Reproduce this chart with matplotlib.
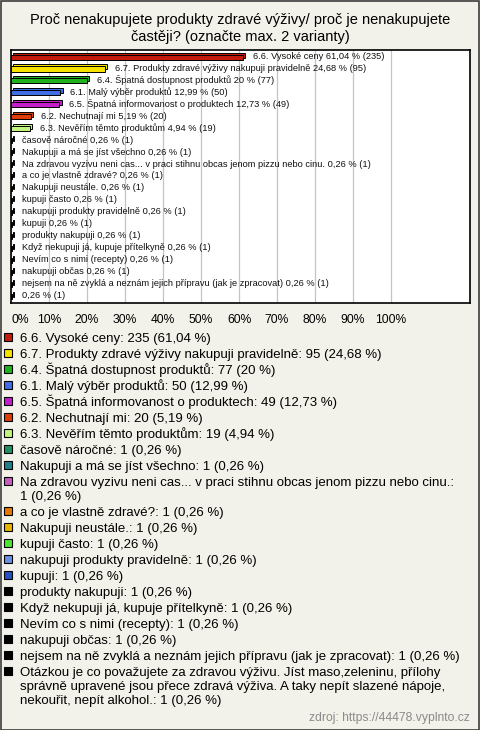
"""Proč nenakupujete produkty zdravé výživy - horizontal bar chart with legend."""

import matplotlib
matplotlib.use("Agg")
import matplotlib.pyplot as plt
from matplotlib.patches import Rectangle

# category names as shown in the legend
categories = [
    "6.6. Vysoké ceny",
    "6.7. Produkty zdravé výživy nakupuji pravidelně",
    "6.4. Špatná dostupnost produktů",
    "6.1. Malý výběr produktů",
    "6.5. Špatná informovanost o produktech",
    "6.2. Nechutnají mi",
    "6.3. Nevěřím těmto produktům",
    "časově náročné",
    "Nakupuji a má se jíst všechno",
    "Na zdravou vyzivu neni cas... v praci stihnu obcas jenom pizzu nebo cinu.",
    "a co je vlastně zdravé?",
    "Nakupuji neustále.",
    "kupuji často",
    "nakupuji produkty pravidelně",
    "kupuji",
    "produkty nakupuji",
    "Když nekupuji já, kupuje přítelkyně",
    "Nevím co s nimi (recepty)",
    "nakupuji občas",
    "nejsem na ně zvyklá a neznám jejich přípravu (jak je zpracovat)",
    "Otázkou je co považujete za zdravou výživu. Jíst maso,zeleninu, přílohy "
    "správně upravené jsou přece zdravá výživa. A taky nepít slazené nápoje, "
    "nekouřit, nepít alkohol.",
]
# label shown next to the bar (the long last answer is left out there)
bar_names = categories[:20] + [""]
counts = [235, 95, 77, 50, 49, 20, 19, 1, 1, 1, 1, 1, 1, 1, 1, 1, 1, 1, 1, 1, 1]
percents = [61.04, 24.68, 20, 12.99, 12.73, 5.19, 4.94] + [0.26] * 14
colors = [
    "#c41a0c", "#f7e200", "#1fb21f", "#3f6ee6", "#c21ecb", "#e03c0a",
    "#c2f57e", "#1f9160", "#217f8c", "#c45fc0", "#e6780a", "#e8b400",
    "#4ce632", "#6a90e2", "#2450c0",
] + ["#000000"] * 6

x_ticks = [0, 10, 20, 30, 40, 50, 60, 70, 80, 90, 100]

BG = "#f3f2ea"
W, H = 480, 730


def fmt_pct(p):
    return f"{p:g}".replace(".", ",")


def fx(px):
    return px / W


def fy(py):
    return 1 - py / H


def main():
    plt.rcParams["font.family"] = ["Liberation Sans", "DejaVu Sans"]
    fig = plt.figure(figsize=(4.8, 7.3), dpi=100, facecolor=BG)

    # outer frame
    fig.patches.append(Rectangle((0.5 / W, 0.5 / H), 1 - 1.5 / W, 1 - 1.5 / H,
                                 transform=fig.transFigure, fill=False,
                                 edgecolor="#3c3c3c", linewidth=1.2))

    fig.text(0.5, fy(28.5), "Proč nenakupujete produkty zdravé výživy/ proč je nenakupujete\n"
             "častěji? (označte max. 2 varianty)", ha="center", va="center",
             fontsize=10.5, linespacing=1.2)

    ax = fig.add_axes([fx(11), fy(302.5), fx(459), 252.5 / H])
    ax.set_facecolor("white")
    n = len(categories)
    rows = list(range(n))
    vals = [p / 100 for p in percents]

    # 3D look: back face shifted up/right, then the front face
    depth_x = 2.2 / 380
    ax.barh([r - 0.17 for r in rows], vals, left=depth_x, height=0.42,
            color=colors, edgecolor="black", linewidth=0.7, zorder=2)
    ax.barh(rows, vals, height=0.42, color=colors, edgecolor="black",
            linewidth=0.7, zorder=3)

    for r, v, name, p, c in zip(rows, vals, bar_names, percents, counts):
        label = f"{name} {fmt_pct(p)} % ({c})".strip()
        ax.text(v + 10 / 380, r - 0.05, label, va="center", ha="left",
                fontsize=6.7, color="#111111", zorder=4)

    ax.set_xlim(0, 459 / 380)
    ax.set_ylim(n - 1 + 0.54, -0.59)
    ax.set_xticks([t / 100 for t in x_ticks])
    ax.set_xticklabels([f"{t}%" for t in x_ticks], fontsize=8.7)
    ax.get_xticklabels()[0].set_ha("left")
    ax.tick_params(axis="x", length=0, pad=8)
    ax.set_yticks([])
    ax.grid(axis="x", color="#c4c4c4", linewidth=0.9, zorder=1)
    for s in ax.spines.values():
        s.set_linewidth(1.2)
        s.set_color("black")

    # legend, wrapped to the figure width
    renderer = fig.canvas.get_renderer()
    max_w = 442
    fs = 9.5
    y = 337
    for name, c, p, col in zip(categories, counts, percents, colors):
        text = f"{name}: {c} ({fmt_pct(p)} %)"
        words = text.split(" ")
        lines, cur = [], ""
        for w in words:
            trial = (cur + " " + w).strip()
            t = fig.text(0, 0, trial, fontsize=fs)
            width = t.get_window_extent(renderer).width
            t.remove()
            if width > max_w and cur:
                lines.append(cur)
                cur = w
            else:
                cur = trial
        lines.append(cur)
        fig.patches.append(Rectangle((fx(4), fy(y + 4)), 8 / W, 8 / H,
                                     transform=fig.transFigure, facecolor=col,
                                     edgecolor="black", linewidth=0.8))
        for i, line in enumerate(lines):
            fig.text(fx(20), fy(y + 5 + i * 14), line, fontsize=fs,
                     va="baseline", ha="left")
        y += 16 + 14 * (len(lines) - 1)

    fig.text(fx(470), fy(718), "zdroj: https://44478.vyplnto.cz", ha="right",
             va="center", fontsize=8.7, color="#8a8a8a")

    fig.savefig("out.png", dpi=100, facecolor=BG)


if __name__ == "__main__":
    main()
